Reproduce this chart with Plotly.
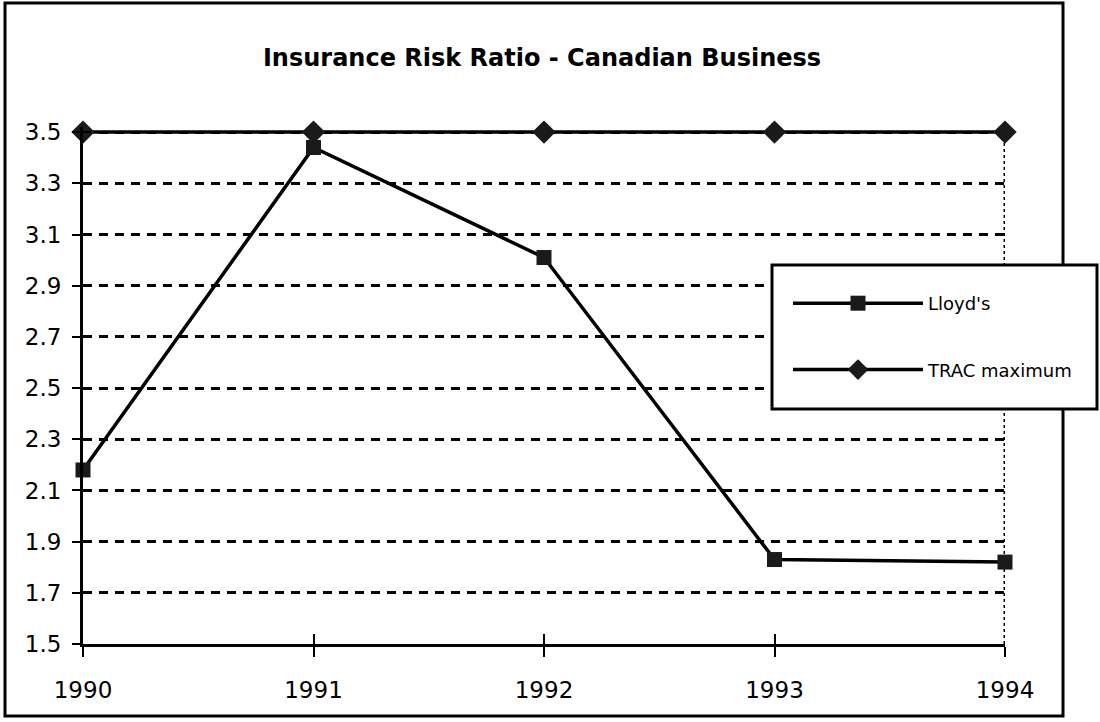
import plotly.graph_objects as go

years = [1990, 1991, 1992, 1993, 1994]
lloyds = [2.18, 3.44, 3.01, 1.83, 1.82]
trac_max = [3.5, 3.5, 3.5, 3.5, 3.5]
y_ticks = [1.5, 1.7, 1.9, 2.1, 2.3, 2.5, 2.7, 2.9, 3.1, 3.3, 3.5]
title_text = "Insurance Risk Ratio - Canadian Business"

W, H = 1100, 722
Y_MIN, Y_MAX = 1.5, 3.5
Y_TOP = 3.52  # small headroom so the line at 3.5 is not clipped
L, R, B = 83, 95, 78
PX_PER_UNIT = (H - B - 132) / (Y_MAX - Y_MIN)
T = round(132 - (Y_TOP - Y_MAX) * PX_PER_UNIT)
PW, PH = W - L - R, H - T - B

def px(x):
    return (x - L) / PW

def py(y):
    return (H - B - y) / PH

FONT = "DejaVu Sans"

fig = go.Figure()
fig.add_trace(go.Scatter(
    x=years, y=lloyds, name="Lloyd's", mode="lines+markers",
    line=dict(color="black", width=3.5),
    marker=dict(symbol="square", size=15, color="#1a1a1a"),
    legendgroup="a", cliponaxis=False,
))
fig.add_trace(go.Scatter(
    x=years, y=trac_max, name="TRAC maximum", mode="lines+markers",
    line=dict(color="black", width=3.5),
    marker=dict(symbol="diamond", size=18, color="#1a1a1a"),
    legendgroup="b", cliponaxis=False,
))
# invisible trace to carry the overlay axes (inside half of crossing ticks)
fig.add_trace(go.Scatter(
    x=years, y=lloyds, xaxis="x2", yaxis="y2", mode="lines",
    line=dict(color="rgba(0,0,0,0)"), showlegend=False, hoverinfo="skip",
))

axis_font = dict(family=FONT, size=23, color="black")
fig.update_layout(
    width=W, height=H,
    margin=dict(l=L, r=R, t=T, b=B),
    paper_bgcolor="white", plot_bgcolor="white",
    showlegend=True,
    title=dict(text=title_text, x=px(542), xref="paper", xanchor="center",
               y=1 - 58 / H, yref="container", yanchor="middle",
               font=dict(family=FONT, size=24, color="black", weight="bold")),
    xaxis=dict(range=[1990, 1994], tickvals=years, ticktext=[str(y) for y in years],
               showgrid=False, zeroline=False, showline=True, linecolor="black", linewidth=3,
               ticks="outside", ticklen=10, tickwidth=2, tickcolor="black",
               ticklabelstandoff=13, tickfont=axis_font),
    yaxis=dict(range=[Y_MIN, Y_TOP], tickvals=y_ticks, ticktext=[f"{v:.1f}" for v in y_ticks],
               showgrid=True, gridcolor="black", gridwidth=3, griddash="9px,7px",
               zeroline=False, showline=True, linecolor="black", linewidth=3,
               ticks="outside", ticklen=8, tickwidth=2, tickcolor="black",
               ticklabelstandoff=6, tickfont=axis_font),
    xaxis2=dict(range=[1990, 1994], overlaying="x", anchor="y", tickvals=years,
                showticklabels=False, showgrid=False, zeroline=False, showline=False,
                ticks="inside", ticklen=10, tickwidth=2, tickcolor="black"),
    yaxis2=dict(range=[Y_MIN, Y_TOP], overlaying="y", anchor="x", tickvals=y_ticks,
                showticklabels=False, showgrid=False, zeroline=False, showline=False,
                ticks="inside", ticklen=8, tickwidth=2, tickcolor="black"),
    legend=dict(x=px(788), y=py(285), xanchor="left", yanchor="top",
                bgcolor="rgba(0,0,0,0)", borderwidth=0,
                itemwidth=130, traceorder="grouped", tracegroupgap=40,
                font=dict(family=FONT, size=18, color="black")),
    shapes=[
        # dotted right edge of plot area
        dict(type="line", xref="x", yref="y", x0=1994, x1=1994, y0=Y_MIN, y1=Y_MAX,
             line=dict(color="black", width=3, dash="dot"), layer="below"),
        # outer chart border
        dict(type="rect", xref="paper", yref="paper",
             x0=px(5), x1=px(1063), y0=py(716), y1=py(3),
             line=dict(color="black", width=3), fillcolor="rgba(0,0,0,0)", layer="above"),
        # legend box
        dict(type="rect", xref="paper", yref="paper",
             x0=px(772), x1=px(1097), y0=py(409), y1=py(265),
             line=dict(color="black", width=3), fillcolor="white", layer="above"),
    ],
)

fig.write_html("out.html", config={"displayModeBar": False},
               post_script="document.body.style.margin='0';document.body.style.overflow='hidden';")
